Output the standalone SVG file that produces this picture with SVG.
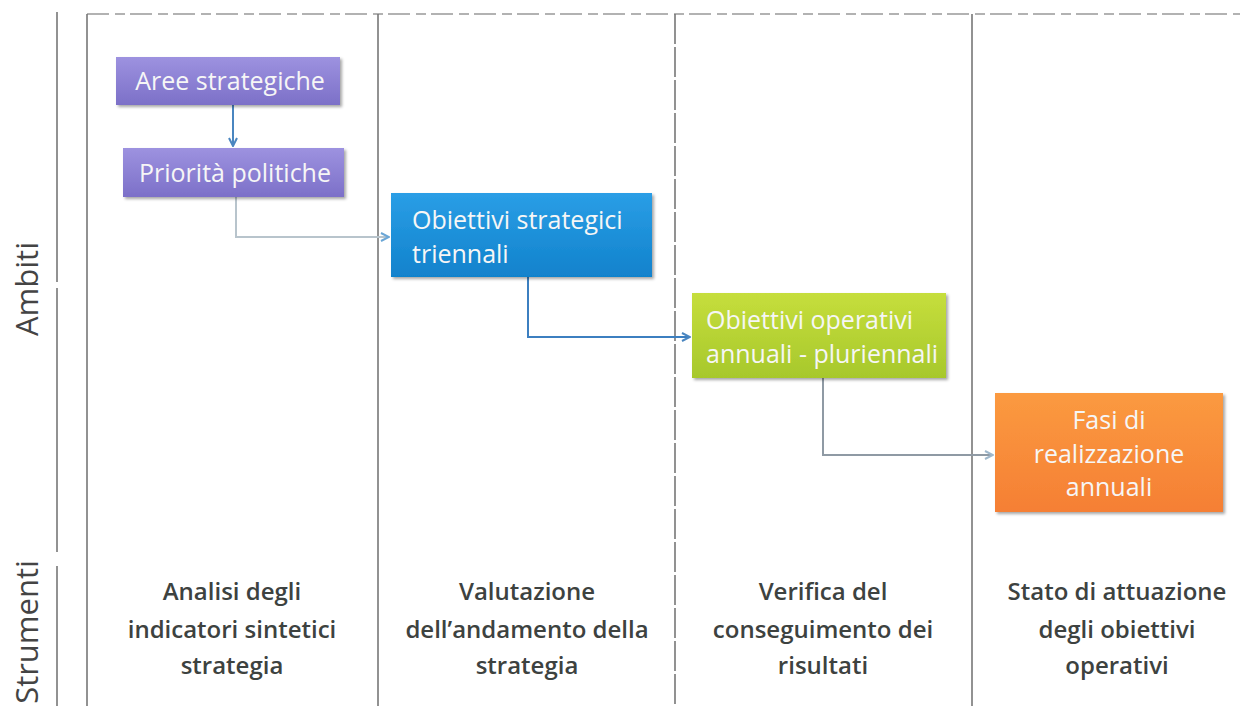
<svg xmlns="http://www.w3.org/2000/svg" width="1248" height="706" viewBox="0 0 1248 706">
<defs>
<style>
.frame{stroke:#777;stroke-width:1.6;fill:none}
.dash{stroke:#999;stroke-width:1.4;fill:none;stroke-dasharray:22 6 10 5}
.side{font-family:"Open Sans","Liberation Sans",sans-serif;font-size:31px;fill:#444}
.nt{font-family:"Open Sans","Liberation Sans",sans-serif;font-size:25px;fill:#f6f6f6}
.bt{font-family:"Open Sans","Liberation Sans",sans-serif;font-size:24px;font-weight:600;fill:#3d4240;text-anchor:middle}
.conn{fill:none;stroke-width:2}
</style>
<linearGradient id="gP" x1="0" y1="0" x2="0" y2="1"><stop offset="0" stop-color="#9d92e0"/><stop offset="1" stop-color="#7c70c8"/></linearGradient>
<linearGradient id="gB" x1="0" y1="0" x2="0" y2="1"><stop offset="0" stop-color="#2a9ee6"/><stop offset="1" stop-color="#1182cc"/></linearGradient>
<linearGradient id="gG" x1="0" y1="0" x2="0" y2="1"><stop offset="0" stop-color="#c6de3c"/><stop offset="1" stop-color="#a7c82c"/></linearGradient>
<linearGradient id="gO" x1="0" y1="0" x2="0" y2="1"><stop offset="0" stop-color="#fb9a40"/><stop offset="1" stop-color="#f57f34"/></linearGradient>
<filter id="sh" x="-5%" y="-10%" width="115%" height="130%"><feDropShadow dx="2" dy="2" stdDeviation="1.5" flood-color="#000" flood-opacity="0.35"/></filter>
<marker id="aBlue" viewBox="0 0 10 10" refX="9" refY="5" markerWidth="5" markerHeight="5" orient="auto"><path d="M1,1 L9,5 L1,9" fill="none" stroke="#4a86c0" stroke-width="2"/></marker>
<marker id="aLight" viewBox="0 0 10 10" refX="9" refY="5" markerWidth="5" markerHeight="5" orient="auto"><path d="M1,1 L9,5 L1,9" fill="none" stroke="#6aa6d6" stroke-width="2"/></marker>
<marker id="aGray" viewBox="0 0 10 10" refX="9" refY="5" markerWidth="5" markerHeight="5" orient="auto"><path d="M1,1 L9,5 L1,9" fill="none" stroke="#9fb8cc" stroke-width="2"/></marker>
</defs>
<rect width="1248" height="706" fill="#fff"/>

<g id="frame">
<line class="dash" x1="87" y1="14" x2="1240" y2="14"/>
<line class="frame" x1="87" y1="14" x2="87" y2="706"/>
<line class="frame" x1="378" y1="14" x2="378" y2="706"/>
<line class="frame" x1="675" y1="14" x2="675" y2="706" stroke-dasharray="30 3"/>
<line class="frame" x1="972" y1="14" x2="972" y2="706"/>
<line class="frame" x1="57" y1="12" x2="57" y2="282"/>
<line class="frame" x1="57" y1="288" x2="57" y2="552"/>
<line class="frame" x1="57" y1="566" x2="57" y2="706"/>
</g>

<g id="label-ambiti"><text class="side" transform="translate(38,289) rotate(-90)" text-anchor="middle">Ambiti</text></g>
<g id="label-strumenti"><text class="side" transform="translate(38,632) rotate(-90)" text-anchor="middle">Strumenti</text></g>

<g id="connectors">
<path class="conn" d="M233,105 L233,146" stroke="#4a86c0" marker-end="url(#aBlue)"/>
<path class="conn" d="M236,197 L236,237 L389,237" stroke="#b8c4cc" stroke-width="1.5" marker-end="url(#aLight)"/>
<path class="conn" d="M528,277 L528,337 L690,337" stroke="#3c7fc0" marker-end="url(#aBlue)"/>
<path class="conn" d="M823,378 L823,455 L993,455" stroke="#8f9aa4" marker-end="url(#aGray)"/>
</g>

<g id="n-aree">
<rect x="116" y="57" width="224" height="48" fill="url(#gP)" filter="url(#sh)"/>
<text class="nt" x="230" y="90" text-anchor="middle">Aree strategiche</text>
</g>
<g id="n-priorita">
<rect x="123" y="148" width="221" height="49" fill="url(#gP)" filter="url(#sh)"/>
<text class="nt" x="235" y="182" text-anchor="middle">Priorità politiche</text>
</g>
<g id="n-obstrat">
<rect x="391" y="193" width="261" height="84" fill="url(#gB)" filter="url(#sh)"/>
<text class="nt" x="412" y="229">Obiettivi strategici</text>
<text class="nt" x="412" y="263">triennali</text>
</g>
<g id="n-oboper">
<rect x="692" y="293" width="254" height="85" fill="url(#gG)" filter="url(#sh)"/>
<text class="nt" x="706" y="329">Obiettivi operativi</text>
<text class="nt" x="706" y="363">annuali - pluriennali</text>
</g>
<g id="n-fasi">
<rect x="995" y="393" width="228" height="119" fill="url(#gO)" filter="url(#sh)"/>
<text class="nt" x="1109" y="429" text-anchor="middle">Fasi di</text>
<text class="nt" x="1109" y="463" text-anchor="middle">realizzazione</text>
<text class="nt" x="1109" y="496" text-anchor="middle">annuali</text>
</g>

<g id="t-col1">
<text class="bt" x="232" y="600">Analisi degli</text>
<text class="bt" x="232" y="638">indicatori sintetici</text>
<text class="bt" x="232" y="674">strategia</text>
</g>
<g id="t-col2">
<text class="bt" x="527" y="600">Valutazione</text>
<text class="bt" x="527" y="638">dell’andamento della</text>
<text class="bt" x="527" y="674">strategia</text>
</g>
<g id="t-col3">
<text class="bt" x="823" y="600">Verifica del</text>
<text class="bt" x="823" y="638">conseguimento dei</text>
<text class="bt" x="823" y="674">risultati</text>
</g>
<g id="t-col4">
<text class="bt" x="1117" y="600">Stato di attuazione</text>
<text class="bt" x="1117" y="638">degli obiettivi</text>
<text class="bt" x="1117" y="674">operativi</text>
</g>
</svg>
